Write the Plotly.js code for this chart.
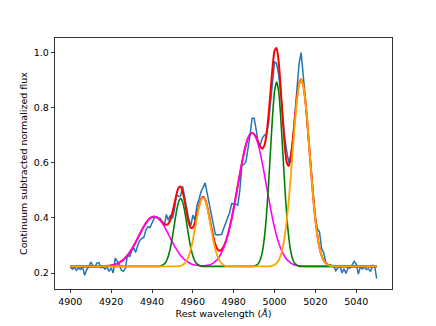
<!DOCTYPE html>
<html>
<head>
<meta charset="utf-8">
<script src="https://cdn.plot.ly/plotly-3.0.1.min.js"></script>
<style>
  html, body { margin: 0; padding: 0; background: #fff; }
  #chart { width: 436px; height: 326px; }
</style>
</head>
<body>
<div id="chart"></div>
<script>
// wavelength grid: 4900 .. 5050 in 1 A steps
const lambdaStart = 4900;
const lambdaStep = 1;

const xTicks = [4900, 4920, 4940, 4960, 4980, 5000, 5020, 5040];
const yTicks = [0.2, 0.4, 0.6, 0.8, 1.0];

// observed spectrum
const observedFlux = [
  0.222, 0.214, 0.220, 0.210, 0.218, 0.213, 0.222, 0.192, 0.212, 0.222,
  0.240, 0.228, 0.222, 0.236, 0.238, 0.219, 0.222, 0.214, 0.222, 0.206,
  0.218, 0.200, 0.254, 0.244, 0.230, 0.210, 0.206, 0.218, 0.268, 0.258,
  0.280, 0.292, 0.275, 0.300, 0.318, 0.325, 0.330, 0.356, 0.368, 0.365,
  0.385, 0.398, 0.403, 0.400, 0.398, 0.386, 0.370, 0.412, 0.392, 0.410,
  0.398, 0.430, 0.484, 0.478, 0.480, 0.514, 0.470, 0.430, 0.395, 0.372,
  0.410, 0.392, 0.445, 0.468, 0.495, 0.510, 0.527, 0.490, 0.450, 0.410,
  0.370, 0.340, 0.338, 0.338, 0.340, 0.360, 0.380, 0.400, 0.420, 0.452,
  0.452, 0.450, 0.446, 0.500, 0.592, 0.594, 0.604, 0.650, 0.700, 0.762,
  0.762, 0.720, 0.670, 0.665, 0.690, 0.700, 0.705, 0.740, 0.820, 0.900,
  0.968, 0.960, 0.920, 0.850, 0.760, 0.690, 0.640, 0.600, 0.630, 0.690,
  0.780, 0.870, 0.960, 1.000, 0.930, 0.840, 0.740, 0.650, 0.560, 0.470,
  0.400, 0.360, 0.350, 0.290, 0.275, 0.240, 0.232, 0.230, 0.228, 0.225,
  0.208, 0.218, 0.228, 0.200, 0.215, 0.198, 0.220, 0.218, 0.232, 0.242,
  0.232, 0.196, 0.222, 0.215, 0.222, 0.212, 0.215, 0.205, 0.228, 0.226,
  0.180
];

// total fit
const totalFit = [
  0.224, 0.224, 0.224, 0.224, 0.224, 0.224, 0.224, 0.224, 0.224, 0.224,
  0.224, 0.224, 0.224, 0.224, 0.224, 0.224, 0.225, 0.225, 0.226, 0.226,
  0.228, 0.229, 0.231, 0.234, 0.238, 0.243, 0.248, 0.256, 0.264, 0.274,
  0.286, 0.298, 0.312, 0.326, 0.341, 0.355, 0.369, 0.381, 0.391, 0.399,
  0.403, 0.405, 0.403, 0.399, 0.392, 0.385, 0.378, 0.375, 0.379, 0.394,
  0.420, 0.453, 0.486, 0.510, 0.514, 0.495, 0.460, 0.418, 0.383, 0.364,
  0.365, 0.383, 0.413, 0.444, 0.468, 0.477, 0.467, 0.442, 0.406, 0.367,
  0.332, 0.304, 0.287, 0.281, 0.284, 0.295, 0.313, 0.336, 0.365, 0.398,
  0.436, 0.476, 0.518, 0.559, 0.599, 0.635, 0.666, 0.689, 0.703, 0.708,
  0.704, 0.693, 0.675, 0.659, 0.651, 0.662, 0.700, 0.768, 0.856, 0.945,
  1.006, 1.017, 0.968, 0.873, 0.760, 0.662, 0.600, 0.589, 0.622, 0.687,
  0.765, 0.837, 0.886, 0.903, 0.883, 0.830, 0.750, 0.655, 0.558, 0.468,
  0.393, 0.335, 0.292, 0.264, 0.246, 0.236, 0.230, 0.227, 0.225, 0.224,
  0.224, 0.224, 0.224, 0.224, 0.224, 0.224, 0.224, 0.224, 0.224, 0.224,
  0.224, 0.224, 0.224, 0.224, 0.224, 0.224, 0.224, 0.224, 0.224, 0.224,
  0.224
];

// broad component
const broadComp = [
  0.224, 0.224, 0.224, 0.224, 0.224, 0.224, 0.224, 0.224, 0.224, 0.224,
  0.224, 0.224, 0.224, 0.224, 0.224, 0.224, 0.225, 0.225, 0.226, 0.226,
  0.228, 0.229, 0.231, 0.234, 0.238, 0.243, 0.248, 0.256, 0.264, 0.274,
  0.286, 0.298, 0.312, 0.326, 0.341, 0.355, 0.369, 0.381, 0.391, 0.399,
  0.403, 0.405, 0.403, 0.399, 0.391, 0.381, 0.369, 0.355, 0.341, 0.326,
  0.312, 0.298, 0.286, 0.274, 0.264, 0.256, 0.248, 0.243, 0.238, 0.234,
  0.231, 0.229, 0.228, 0.227, 0.226, 0.226, 0.227, 0.228, 0.229, 0.232,
  0.236, 0.242, 0.249, 0.260, 0.273, 0.290, 0.310, 0.335, 0.365, 0.398,
  0.436, 0.476, 0.518, 0.559, 0.599, 0.635, 0.666, 0.689, 0.703, 0.708,
  0.703, 0.689, 0.666, 0.635, 0.599, 0.559, 0.518, 0.476, 0.436, 0.398,
  0.365, 0.335, 0.310, 0.290, 0.273, 0.260, 0.249, 0.242, 0.236, 0.232,
  0.229, 0.227, 0.226, 0.225, 0.225, 0.224, 0.224, 0.224, 0.224, 0.224,
  0.224, 0.224, 0.224, 0.224, 0.224, 0.224, 0.224, 0.224, 0.224, 0.224,
  0.224, 0.224, 0.224, 0.224, 0.224, 0.224, 0.224, 0.224, 0.224, 0.224,
  0.224, 0.224, 0.224, 0.224, 0.224, 0.224, 0.224, 0.224, 0.224, 0.224,
  0.224
];

// narrow component
const narrowComp = [
  0.224, 0.224, 0.224, 0.224, 0.224, 0.224, 0.224, 0.224, 0.224, 0.224,
  0.224, 0.224, 0.224, 0.224, 0.224, 0.224, 0.224, 0.224, 0.224, 0.224,
  0.224, 0.224, 0.224, 0.224, 0.224, 0.224, 0.224, 0.224, 0.224, 0.224,
  0.224, 0.224, 0.224, 0.224, 0.224, 0.224, 0.224, 0.224, 0.224, 0.224,
  0.224, 0.224, 0.224, 0.224, 0.225, 0.228, 0.233, 0.243, 0.262, 0.291,
  0.331, 0.379, 0.425, 0.458, 0.471, 0.458, 0.425, 0.379, 0.331, 0.291,
  0.262, 0.243, 0.233, 0.228, 0.225, 0.224, 0.224, 0.224, 0.224, 0.224,
  0.224, 0.224, 0.224, 0.224, 0.224, 0.224, 0.224, 0.224, 0.224, 0.224,
  0.224, 0.224, 0.224, 0.224, 0.224, 0.224, 0.224, 0.224, 0.224, 0.224,
  0.225, 0.228, 0.234, 0.248, 0.276, 0.327, 0.406, 0.515, 0.643, 0.768,
  0.860, 0.894, 0.860, 0.768, 0.643, 0.515, 0.406, 0.327, 0.276, 0.248,
  0.234, 0.228, 0.225, 0.224, 0.224, 0.224, 0.224, 0.224, 0.224, 0.224,
  0.224, 0.224, 0.224, 0.224, 0.224, 0.224, 0.224, 0.224, 0.224, 0.224,
  0.224, 0.224, 0.224, 0.224, 0.224, 0.224, 0.224, 0.224, 0.224, 0.224,
  0.224, 0.224, 0.224, 0.224, 0.224, 0.224, 0.224, 0.224, 0.224, 0.224,
  0.224
];

// redshifted component
const redComp = [
  0.224, 0.224, 0.224, 0.224, 0.224, 0.224, 0.224, 0.224, 0.224, 0.224,
  0.224, 0.224, 0.224, 0.224, 0.224, 0.224, 0.224, 0.224, 0.224, 0.224,
  0.224, 0.224, 0.224, 0.224, 0.224, 0.224, 0.224, 0.224, 0.224, 0.224,
  0.224, 0.224, 0.224, 0.224, 0.224, 0.224, 0.224, 0.224, 0.224, 0.224,
  0.224, 0.224, 0.224, 0.224, 0.224, 0.224, 0.224, 0.224, 0.224, 0.224,
  0.224, 0.224, 0.224, 0.225, 0.226, 0.229, 0.235, 0.245, 0.262, 0.286,
  0.319, 0.359, 0.401, 0.438, 0.465, 0.474, 0.465, 0.438, 0.401, 0.359,
  0.319, 0.286, 0.262, 0.245, 0.235, 0.229, 0.226, 0.225, 0.224, 0.224,
  0.224, 0.224, 0.224, 0.224, 0.224, 0.224, 0.224, 0.224, 0.224, 0.224,
  0.224, 0.224, 0.224, 0.224, 0.224, 0.224, 0.224, 0.224, 0.225, 0.227,
  0.230, 0.236, 0.246, 0.264, 0.292, 0.335, 0.393, 0.468, 0.558, 0.655,
  0.750, 0.830, 0.883, 0.902, 0.883, 0.830, 0.750, 0.655, 0.558, 0.468,
  0.393, 0.335, 0.292, 0.264, 0.246, 0.236, 0.230, 0.227, 0.225, 0.224,
  0.224, 0.224, 0.224, 0.224, 0.224, 0.224, 0.224, 0.224, 0.224, 0.224,
  0.224, 0.224, 0.224, 0.224, 0.224, 0.224, 0.224, 0.224, 0.224, 0.224,
  0.224
];

function lineTrace(y, color, width) {
  return {
    type: 'scatter',
    mode: 'lines',
    x0: lambdaStart,
    dx: lambdaStep,
    y,
    line: { color, width, shape: 'spline', smoothing: 0.6 },
    hoverinfo: 'skip'
  };
}

const traces = [
  lineTrace(observedFlux, '#1f77b4', 1.5),
  lineTrace(totalFit, '#ff0000', 2),
  lineTrace(broadComp, '#ff00ff', 1.6),
  lineTrace(narrowComp, '#008000', 1.6),
  lineTrace(redComp, '#ffa500', 1.8)
];
traces[0].line.shape = 'linear';

const axisFont = { family: 'DejaVu Sans, sans-serif', size: 9.5, color: '#000' };

const layout = {
  width: 436,
  height: 326,
  paper_bgcolor: '#fff',
  plot_bgcolor: '#fff',
  showlegend: false,
  margin: { l: 55, r: 44, t: 38, b: 37 },
  font: axisFont,
  xaxis: {
    range: [4892.5, 5057.5],
    tickvals: xTicks,
    ticktext: xTicks.map(String),
    ticks: 'outside',
    ticklen: 3.5,
    tickwidth: 0.8,
    tickcolor: '#000',
    showline: true,
    mirror: true,
    linecolor: '#000',
    linewidth: 0.8,
    showgrid: false,
    zeroline: false,
    tickfont: axisFont,
    title: { text: 'Rest wavelength (<i>Å</i>)', font: axisFont, standoff: 4 }
  },
  yaxis: {
    range: [0.142, 1.053],
    tickvals: yTicks,
    ticktext: yTicks.map((v) => v.toFixed(1)),
    ticks: 'outside',
    ticklen: 3.5,
    tickwidth: 0.8,
    tickcolor: '#000',
    showline: true,
    mirror: true,
    linecolor: '#000',
    linewidth: 0.8,
    showgrid: false,
    zeroline: false,
    tickfont: axisFont,
    title: { text: 'Continuum subtracted normalized flux', font: axisFont, standoff: 4 }
  }
};

Plotly.newPlot('chart', traces, layout, { staticPlot: true, displayModeBar: false });
</script>
</body>
</html>
